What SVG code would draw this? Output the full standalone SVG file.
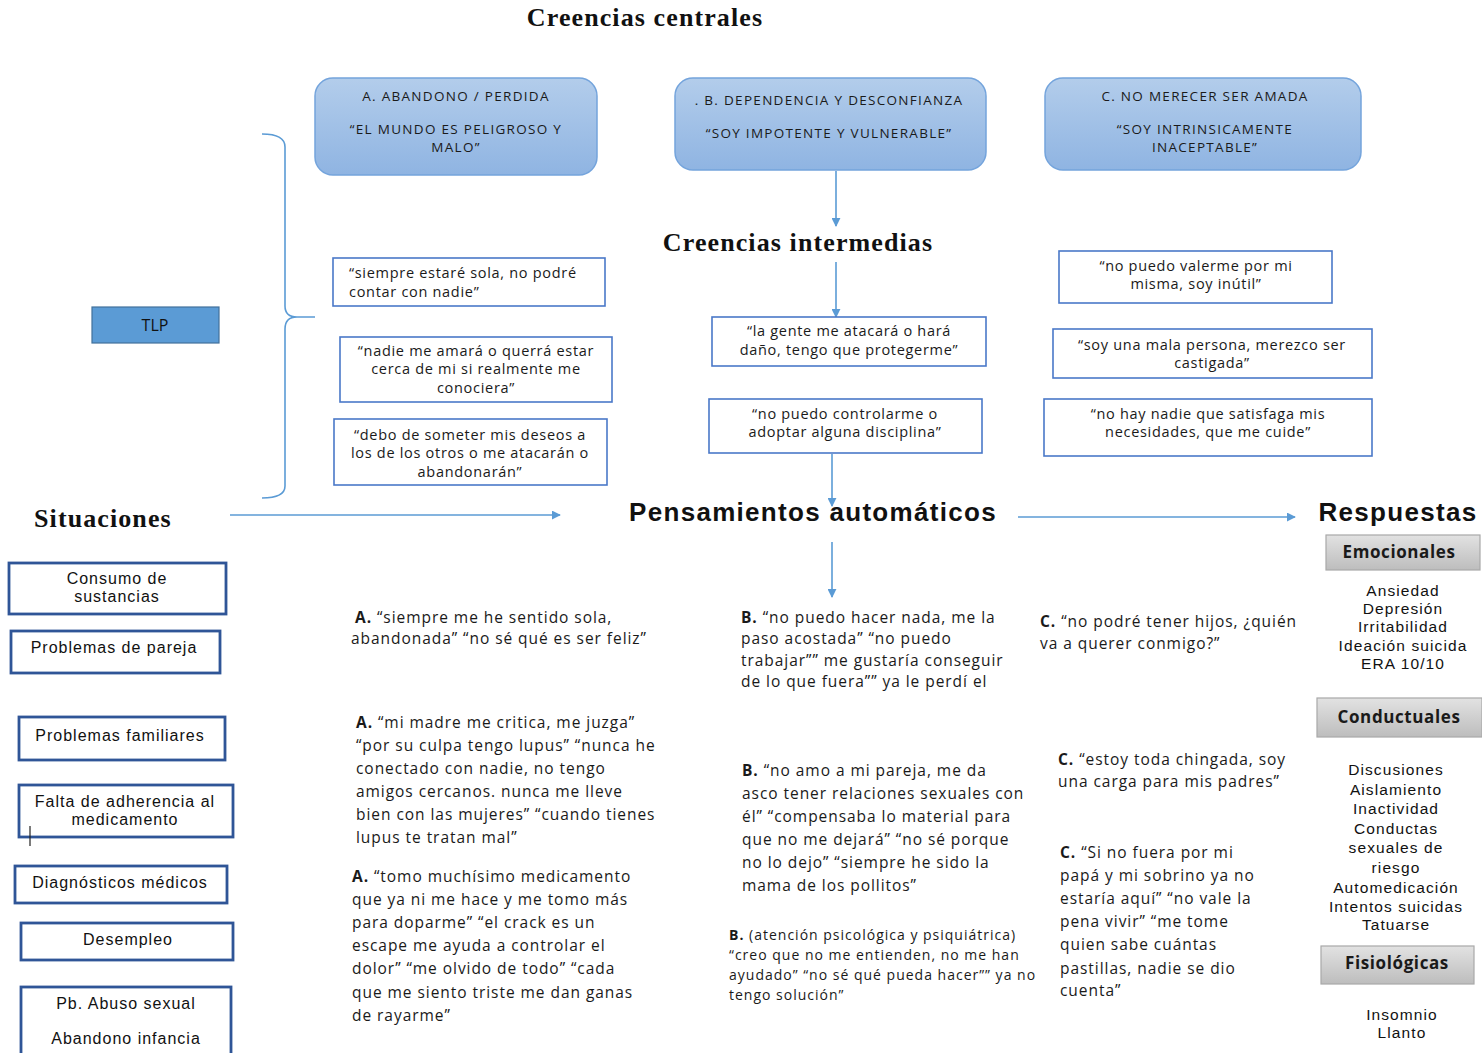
<svg xmlns="http://www.w3.org/2000/svg" width="1482" height="1053" viewBox="0 0 1482 1053">
  <defs>
    <linearGradient id="coreFill" x1="0" y1="0" x2="0" y2="1">
      <stop offset="0" stop-color="#b3cdeb"/>
      <stop offset="1" stop-color="#8fb4e2"/>
    </linearGradient>
    <linearGradient id="grayFill" x1="0" y1="0" x2="0" y2="1">
      <stop offset="0" stop-color="#e2e2e2"/>
      <stop offset="1" stop-color="#bdbdbd"/>
    </linearGradient>
    <marker id="arrow" viewBox="0 0 10 10" refX="9" refY="5" markerWidth="9" markerHeight="9" markerUnits="userSpaceOnUse" orient="auto">
      <path d="M0,0 L10,5 L0,10 z" fill="#5b9bd5"/>
    </marker>
    <style>
      .core { fill: url(#coreFill); stroke: #74a4dc; stroke-width: 1.5; }
      .coreTxt { font-family: "Open Sans", "Liberation Sans", sans-serif; font-size: 13.5px; letter-spacing: 1.3px; fill: #1a1a1a; text-anchor: middle; }
      .ibox { fill: #ffffff; stroke: #4a78c8; stroke-width: 1.6; }
      .itxt { font-family: "Open Sans", "Liberation Sans", sans-serif; font-size: 14.5px; letter-spacing: 0.7px; fill: #1a1a1a; }
      .mid { text-anchor: middle; }
      .sbox { fill: #ffffff; stroke: #2f5597; stroke-width: 2.8; }
      .stxt { font-family: "Liberation Sans", Arial, sans-serif; font-size: 16px; letter-spacing: 1px; fill: #111; text-anchor: middle; }
      .head { font-family: "Liberation Serif", "Times New Roman", serif; font-weight: bold; font-size: 26px; letter-spacing: 1.1px; fill: #111; }
      .headSans { font-family: "Liberation Sans", Arial, sans-serif; font-weight: bold; font-size: 26px; letter-spacing: 1.3px; fill: #111; }
      .body { font-family: "Open Sans", "Liberation Sans", sans-serif; font-size: 15.5px; letter-spacing: 0.95px; fill: #1a1a1a; }
      .small { font-size: 14px; letter-spacing: 1px; }
      .lbl { font-weight: bold; }
      .gbox { fill: url(#grayFill); stroke: #a8a8a8; stroke-width: 1.2; }
      .gtxt { font-family: "Open Sans", "Liberation Sans", sans-serif; font-weight: bold; font-size: 17px; letter-spacing: 0.6px; fill: #1a1a1a; text-anchor: middle; }
      .rtxt { font-family: "Liberation Sans", Arial, sans-serif; font-size: 15.5px; letter-spacing: 1.1px; fill: #111; text-anchor: middle; }
      .conn { fill: none; stroke: #5b9bd5; stroke-width: 1.6; }
    </style>
  </defs>

  <rect width="1482" height="1053" fill="#ffffff"/>

  <!-- section headings -->
  <text class="head" x="645" y="26" text-anchor="middle">Creencias centrales</text>
  <text class="head" x="798" y="251" text-anchor="middle">Creencias intermedias</text>
  <text class="head" x="34" y="527" font-size="25" letter-spacing="0.9">Situaciones</text>
  <text class="headSans" x="813" y="521" text-anchor="middle">Pensamientos automáticos</text>
  <text class="headSans" x="1398" y="521" text-anchor="middle">Respuestas</text>

  <!-- connectors -->
  <g id="connectors">
    <path class="conn" d="M836,171 L836,226" marker-end="url(#arrow)"/>
    <path class="conn" d="M836,262 L836,317" marker-end="url(#arrow)"/>
    <path class="conn" d="M832,454 L832,506" marker-end="url(#arrow)"/>
    <path class="conn" d="M832,542 L832,597" marker-end="url(#arrow)"/>
    <path class="conn" d="M230,515 L560,515" marker-end="url(#arrow)"/>
    <path class="conn" d="M1018,517 L1295,517" marker-end="url(#arrow)"/>
    <!-- brace gathering the intermediate beliefs -->
    <path class="conn" stroke-width="2" d="M262,134 Q285,134 285,147 L285,306 Q285,317 297,317 L315,317 M297,317 Q285,317 285,329 L285,486 Q285,498 262,498"/>
  </g>

  <!-- core beliefs -->
  <g id="core-a">
    <rect class="core" x="315" y="78" width="282" height="97" rx="18"/>
    <text class="coreTxt" x="456" y="101">A. ABANDONO / PERDIDA</text>
    <text class="coreTxt" x="456" y="134">“EL MUNDO ES PELIGROSO Y</text>
    <text class="coreTxt" x="456" y="152">MALO”</text>
  </g>
  <g id="core-b">
    <rect class="core" x="675" y="78" width="311" height="92" rx="18"/>
    <text class="coreTxt" x="829" y="105">. B. DEPENDENCIA Y DESCONFIANZA</text>
    <text class="coreTxt" x="829" y="138">“SOY IMPOTENTE Y VULNERABLE”</text>
  </g>
  <g id="core-c">
    <rect class="core" x="1045" y="78" width="316" height="92" rx="18"/>
    <text class="coreTxt" x="1205" y="101">C. NO MERECER SER AMADA</text>
    <text class="coreTxt" x="1205" y="134">“SOY INTRINSICAMENTE</text>
    <text class="coreTxt" x="1205" y="152">INACEPTABLE”</text>
  </g>

  <!-- diagnosis -->
  <g id="tlp">
    <rect x="92" y="307" width="127" height="36" fill="#5b9bd5" stroke="#41719c" stroke-width="1.2"/>
    <text x="155" y="331" text-anchor="middle" font-family="'Open Sans', 'Liberation Sans', sans-serif" font-size="16" fill="#111">TLP</text>
  </g>

  <!-- intermediate beliefs -->
  <g id="int-1">
    <rect class="ibox" x="333" y="258" width="272" height="48"/>
    <text class="itxt" x="349" y="278">“siempre estaré sola, no podré</text>
    <text class="itxt" x="349" y="297">contar con nadie”</text>
  </g>
  <g id="int-2">
    <rect class="ibox" x="340" y="337" width="272" height="65"/>
    <text class="itxt mid" x="476" y="356">“nadie me amará o querrá estar</text>
    <text class="itxt mid" x="476" y="374">cerca de mi si realmente me</text>
    <text class="itxt mid" x="476" y="393">conociera”</text>
  </g>
  <g id="int-3">
    <rect class="ibox" x="334" y="419" width="273" height="66"/>
    <text class="itxt mid" x="470" y="440">“debo de someter mis deseos a</text>
    <text class="itxt mid" x="470" y="458">los de los otros o me atacarán o</text>
    <text class="itxt mid" x="470" y="477">abandonarán”</text>
  </g>
  <g id="int-4">
    <rect class="ibox" x="712" y="317" width="274" height="49"/>
    <text class="itxt mid" x="849" y="336">“la gente me atacará o hará</text>
    <text class="itxt mid" x="849" y="355">daño, tengo que protegerme”</text>
  </g>
  <g id="int-5">
    <rect class="ibox" x="709" y="399" width="273" height="54"/>
    <text class="itxt mid" x="845" y="419">“no puedo controlarme o</text>
    <text class="itxt mid" x="845" y="437">adoptar alguna disciplina”</text>
  </g>
  <g id="int-6">
    <rect class="ibox" x="1059" y="251" width="273" height="52"/>
    <text class="itxt mid" x="1196" y="271">“no puedo valerme por mi</text>
    <text class="itxt mid" x="1196" y="289">misma, soy inútil”</text>
  </g>
  <g id="int-7">
    <rect class="ibox" x="1053" y="329" width="319" height="49"/>
    <text class="itxt mid" x="1212" y="350">“soy una mala persona, merezco ser</text>
    <text class="itxt mid" x="1212" y="368">castigada”</text>
  </g>
  <g id="int-8">
    <rect class="ibox" x="1044" y="399" width="328" height="57"/>
    <text class="itxt mid" x="1208" y="419">“no hay nadie que satisfaga mis</text>
    <text class="itxt mid" x="1208" y="437">necesidades, que me cuide”</text>
  </g>

  <!-- situations -->
  <g id="sit-1">
    <rect class="sbox" x="9" y="563" width="217" height="51"/>
    <text class="stxt" x="117" y="584">Consumo de</text>
    <text class="stxt" x="117" y="602">sustancias</text>
  </g>
  <g id="sit-2">
    <rect class="sbox" x="11" y="631" width="209" height="42" stroke="#4472c4" stroke-width="3.4"/>
    <text class="stxt" x="114" y="653">Problemas de pareja</text>
  </g>
  <g id="sit-3">
    <rect class="sbox" x="19" y="717" width="206" height="43"/>
    <text class="stxt" x="120" y="741">Problemas familiares</text>
  </g>
  <g id="sit-4">
    <rect class="sbox" x="19" y="785" width="214" height="52"/>
    <text class="stxt" x="125" y="807">Falta de adherencia al</text>
    <text class="stxt" x="125" y="825">medicamento</text>
    <line x1="30" y1="826" x2="30" y2="846" stroke="#222" stroke-width="1.2"/>
  </g>
  <g id="sit-5">
    <rect class="sbox" x="15" y="866" width="212" height="37"/>
    <text class="stxt" x="120" y="888">Diagnósticos médicos</text>
  </g>
  <g id="sit-6">
    <rect class="sbox" x="21" y="923" width="212" height="37"/>
    <text class="stxt" x="128" y="945">Desempleo</text>
  </g>
  <g id="sit-7">
    <rect class="sbox" x="21" y="987" width="210" height="80"/>
    <text class="stxt" x="126" y="1009">Pb. Abuso sexual</text>
    <text class="stxt" x="126" y="1044">Abandono infancia</text>
  </g>

  <!-- automatic thoughts, column A -->
  <g id="thought-a1">
    <text class="body" x="355" y="623"><tspan class="lbl">A.</tspan> “siempre me he sentido sola,</text>
    <text class="body" x="351" y="644">abandonada” “no sé qué es ser feliz”</text>
  </g>
  <g id="thought-a2">
    <text class="body" x="356" y="728"><tspan class="lbl">A.</tspan> “mi madre me critica, me juzga”</text>
    <text class="body" x="356" y="751">“por su culpa tengo lupus” “nunca he</text>
    <text class="body" x="356" y="774">conectado con nadie, no tengo</text>
    <text class="body" x="356" y="797">amigos cercanos. nunca me lleve</text>
    <text class="body" x="356" y="820">bien con las mujeres” “cuando tienes</text>
    <text class="body" x="356" y="843">lupus te tratan mal”</text>
  </g>
  <g id="thought-a3">
    <text class="body" x="352" y="882"><tspan class="lbl">A.</tspan> “tomo muchísimo medicamento</text>
    <text class="body" x="352" y="905">que ya ni me hace y me tomo más</text>
    <text class="body" x="352" y="928">para doparme” “el crack es un</text>
    <text class="body" x="352" y="951">escape me ayuda a controlar el</text>
    <text class="body" x="352" y="974">dolor” “me olvido de todo” “cada</text>
    <text class="body" x="352" y="998">que me siento triste me dan ganas</text>
    <text class="body" x="352" y="1021">de rayarme”</text>
  </g>

  <!-- automatic thoughts, column B -->
  <g id="thought-b1">
    <text class="body" x="741" y="623"><tspan class="lbl">B.</tspan> “no puedo hacer nada, me la</text>
    <text class="body" x="741" y="644">paso acostada” “no puedo</text>
    <text class="body" x="741" y="666">trabajar”” me gustaría conseguir</text>
    <text class="body" x="741" y="687">de lo que fuera”” ya le perdí el</text>
  </g>
  <g id="thought-b2">
    <text class="body" x="742" y="776"><tspan class="lbl">B.</tspan> “no amo a mi pareja, me da</text>
    <text class="body" x="742" y="799">asco tener relaciones sexuales con</text>
    <text class="body" x="742" y="822">él” “compensaba lo material para</text>
    <text class="body" x="742" y="845">que no me dejará” “no sé porque</text>
    <text class="body" x="742" y="868">no lo dejo” “siempre he sido la</text>
    <text class="body" x="742" y="891">mama de los pollitos”</text>
  </g>
  <g id="thought-b3">
    <text class="body small" x="729" y="940"><tspan class="lbl">B.</tspan> (atención psicológica y psiquiátrica)</text>
    <text class="body small" x="729" y="960">“creo que no me entienden, no me han</text>
    <text class="body small" x="729" y="980">ayudado” “no sé qué pueda hacer”” ya no</text>
    <text class="body small" x="729" y="1000">tengo solución”</text>
  </g>

  <!-- automatic thoughts, column C -->
  <g id="thought-c1">
    <text class="body" x="1040" y="627"><tspan class="lbl">C.</tspan> “no podré tener hijos, ¿quién</text>
    <text class="body" x="1040" y="649">va a querer conmigo?”</text>
  </g>
  <g id="thought-c2">
    <text class="body" x="1058" y="765"><tspan class="lbl">C.</tspan> “estoy toda chingada, soy</text>
    <text class="body" x="1058" y="787">una carga para mis padres”</text>
  </g>
  <g id="thought-c3">
    <text class="body" x="1060" y="858"><tspan class="lbl">C.</tspan> “Si no fuera por mi</text>
    <text class="body" x="1060" y="881">papá y mi sobrino ya no</text>
    <text class="body" x="1060" y="904">estaría aquí” “no vale la</text>
    <text class="body" x="1060" y="927">pena vivir” “me tome</text>
    <text class="body" x="1060" y="950">quien sabe cuántas</text>
    <text class="body" x="1060" y="974">pastillas, nadie se dio</text>
    <text class="body" x="1060" y="996">cuenta”</text>
  </g>

  <!-- responses -->
  <g id="resp-emocionales">
    <rect class="gbox" x="1326" y="535" width="154" height="35"/>
    <text class="gtxt" x="1399" y="558">Emocionales</text>
    <text class="rtxt" x="1403" y="596">Ansiedad</text>
    <text class="rtxt" x="1403" y="614">Depresión</text>
    <text class="rtxt" x="1403" y="632">Irritabilidad</text>
    <text class="rtxt" x="1403" y="651">Ideación suicida</text>
    <text class="rtxt" x="1403" y="669">ERA 10/10</text>
  </g>
  <g id="resp-conductuales">
    <rect class="gbox" x="1317" y="698" width="165" height="39"/>
    <text class="gtxt" x="1399" y="723">Conductuales</text>
    <text class="rtxt" x="1396" y="775">Discusiones</text>
    <text class="rtxt" x="1396" y="795">Aislamiento</text>
    <text class="rtxt" x="1396" y="814">Inactividad</text>
    <text class="rtxt" x="1396" y="834">Conductas</text>
    <text class="rtxt" x="1396" y="853">sexuales de</text>
    <text class="rtxt" x="1396" y="873">riesgo</text>
    <text class="rtxt" x="1396" y="893">Automedicación</text>
    <text class="rtxt" x="1396" y="912">Intentos suicidas</text>
    <text class="rtxt" x="1396" y="930">Tatuarse</text>
  </g>
  <g id="resp-fisiologicas">
    <rect class="gbox" x="1321" y="946" width="153" height="38"/>
    <text class="gtxt" x="1397" y="969">Fisiológicas</text>
    <text class="rtxt" x="1402" y="1020">Insomnio</text>
    <text class="rtxt" x="1402" y="1038">Llanto</text>
  </g>
</svg>
